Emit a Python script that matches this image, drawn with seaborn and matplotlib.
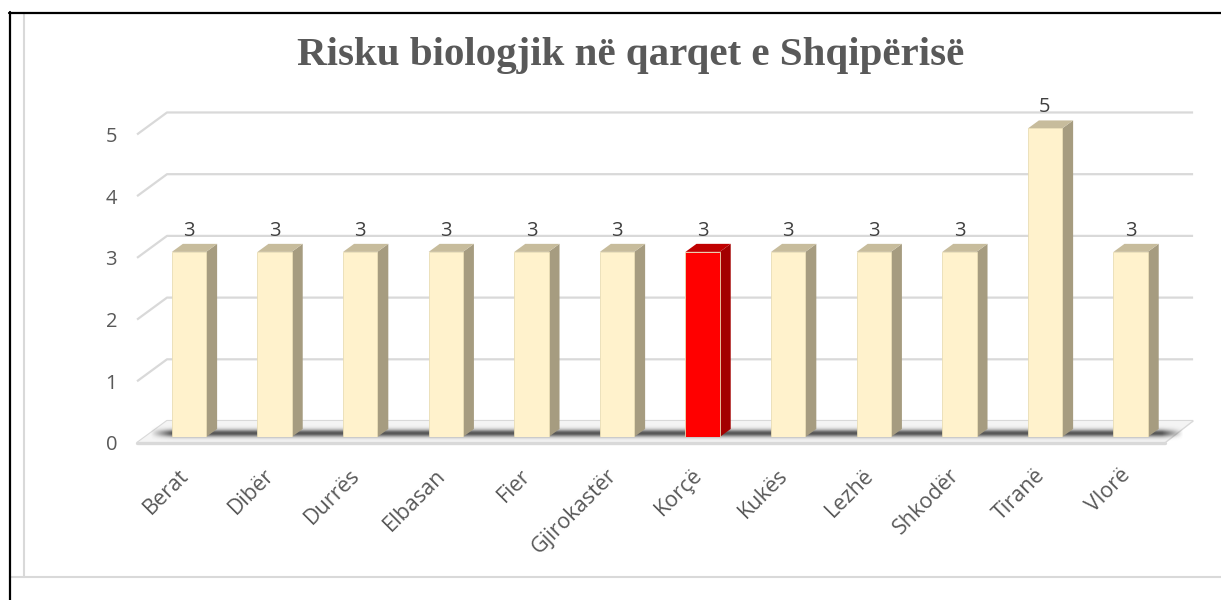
import numpy as np
import matplotlib
matplotlib.use("Agg")
import matplotlib.pyplot as plt
import matplotlib.transforms as mtransforms
from matplotlib.patches import Polygon
from matplotlib.lines import Line2D
import seaborn as sns

# ---------------- data ----------------
categories = ["Berat", "Dibër", "Durrës", "Elbasan", "Fier", "Gjirokastër",
              "Korçë", "Kukës", "Lezhë", "Shkodër", "Tiranë", "Vlorë"]
values = [3, 3, 3, 3, 3, 3, 3, 3, 3, 3, 5, 3]
highlight = "Korçë"
yticks = [0, 1, 2, 3, 4, 5]
title = "Risku biologjik në qarqet e Shqipërisë"

# ---------------- style ----------------
sns.set_theme(style="white")
plt.rcParams['font.family'] = ['Open Sans', 'DejaVu Sans']

W, H = 1221, 600
fig = plt.figure(figsize=(W / 100, H / 100), dpi=100)
ax = fig.add_axes([146.2 / W, (H - 437) / H, 1027.2 / W, 339.4 / H])

FRONT_COL, RED_COL = "#FFF2CC", "#FF0000"
SIDE_COL, TOP_COL = "#A69C80", "#C7BC9C"
RED_SIDE, RED_TOP = "#A30000", "#C00000"
GRID_COL = "#d9d9d9"
TXT_COL = "#595959"
FS = 14.5
FS_X = 15.5

colors = [RED_COL if c == highlight else FRONT_COL for c in categories]

sns.barplot(x=categories, y=values, hue=categories, palette=colors,
            legend=False, width=0.4, saturation=1, ax=ax,
            edgecolor="#E9DDB5", linewidth=0.6, zorder=3)

# depth offsets (data units)
DX, DY = 0.1285, 0.13           # bar depth
FX, FY = -0.607, -0.097         # floor/grid front edge
BX, BY = -0.257, 0.259          # back wall start
BXR = 11.73                     # back wall right
FXR = 11.40                     # floor front right

# back-wall gridlines
for v in yticks:
    ax.plot([FX, BX, BXR], [v + FY, v + BY, v + BY], color=GRID_COL,
            lw=1.6, zorder=0, clip_on=False, solid_capstyle='butt')

# floor
floor = Polygon([(FX, FY), (FXR, FY), (BXR, BY), (BX, BY)], closed=True,
                facecolor="#f4f4f4", edgecolor="none", zorder=0.5, clip_on=False)
ax.add_patch(floor)
ax.plot([FX, FXR], [FY, FY], color=GRID_COL, lw=2.4, zorder=0.6, clip_on=False)
ax.plot([FXR, BXR], [FY, BY], color=GRID_COL, lw=1.0, zorder=0.6, clip_on=False)

# floor shadow band
px_per_y = 61.7
ys = np.linspace(0.2, -0.08, 40)
xs = np.linspace(-0.45, 11.62, 600)
pix = 437 - ys * px_per_y
prof_y = np.exp(-((pix - 433.5) / 3.6) ** 2)
edge = np.clip(np.minimum(xs - xs[0], xs[-1] - xs) / 0.25, 0, 1)
alpha = prof_y[:, None] * edge[None, :] * 0.8
img = np.zeros((len(ys), len(xs), 4))
img[..., :3] = 0.18
img[..., 3] = alpha
ax.imshow(img, extent=[xs[0], xs[-1], ys[-1], ys[0]], aspect='auto',
          interpolation='bilinear', zorder=1, clip_on=False)

# 3D faces and data labels
for p, v, c in zip(ax.patches, values, categories):
    x0, w, h = p.get_x(), p.get_width(), p.get_height()
    side_c = RED_SIDE if c == highlight else SIDE_COL
    top_c = RED_TOP if c == highlight else TOP_COL
    ax.add_patch(Polygon([(x0 + w, 0), (x0 + w + DX, DY), (x0 + w + DX, h + DY), (x0 + w, h)],
                         closed=True, facecolor=side_c, edgecolor="none", zorder=2.9, clip_on=False))
    ax.add_patch(Polygon([(x0, h), (x0 + DX, h + DY), (x0 + w + DX, h + DY), (x0 + w, h)],
                         closed=True, facecolor=top_c, edgecolor="none", zorder=2.9, clip_on=False))
    ax.annotate(str(v), (x0 + w / 2, h), xytext=(0, 11.5), textcoords='offset points',
                ha='center', va='baseline', fontsize=FS, color="#404040")

ax.set_xlim(-0.5, 11.5)
ax.set_ylim(0, 5.5)
for s in ax.spines.values():
    s.set_visible(False)
ax.grid(False)
ax.set_xlabel("")
ax.set_ylabel("")

ax.set_yticks(yticks)
ax.set_yticklabels([str(t) for t in yticks])
ax.tick_params(axis='y', length=0, pad=21, labelsize=FS, labelcolor=TXT_COL)
ax.set_xticks(range(len(categories)))
ax.set_xticklabels(categories, rotation=45, ha='right', rotation_mode='anchor')
ax.tick_params(axis='x', length=0, pad=20, labelsize=FS_X, labelcolor=TXT_COL)

shift_y = mtransforms.ScaledTranslation(0, -6 / 100, fig.dpi_scale_trans)
for lab in ax.get_yticklabels():
    lab.set_transform(lab.get_transform() + shift_y)
shift_x = mtransforms.ScaledTranslation(-11 / 100, 0, fig.dpi_scale_trans)
for lab in ax.get_xticklabels():
    lab.set_transform(lab.get_transform() + shift_x)

# title
fig.text(631 / W, 1 - 56 / H, title, ha='center', va='center',
         family=['Liberation Serif', 'DejaVu Serif'], weight='bold', size=29.5, color=TXT_COL)

# frame lines
def fl(x1, y1, x2, y2, **kw):
    fig.add_artist(Line2D([x1 / W, x2 / W], [1 - y1 / H, 1 - y2 / H],
                          transform=fig.transFigure, **kw))

fl(24, 13, 24, 577, color=GRID_COL, lw=1.5)
fl(10, 577, W, 577, color=GRID_COL, lw=1.5)
fl(9.5, 12, 9.5, H, color="black", lw=1.6)
fl(9, 12.5, W, 12.5, color="black", lw=1.6)

fig.savefig("out.png", dpi=100)
